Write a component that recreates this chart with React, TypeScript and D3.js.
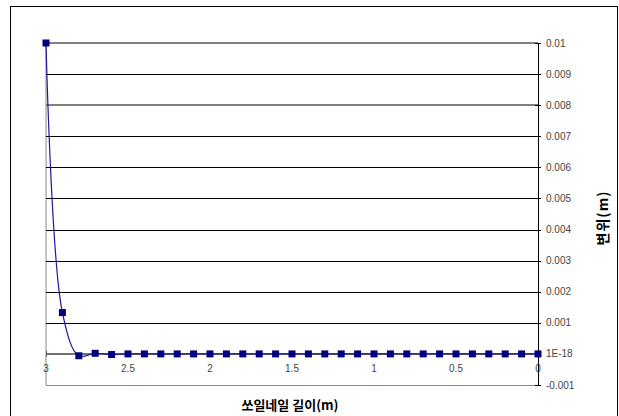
import React from "react";
import * as d3 from "d3";

const xValues = [3, 2.9, 2.8, 2.7, 2.6, 2.5, 2.4, 2.3, 2.2, 2.1, 2.0, 1.9, 1.8, 1.7, 1.6, 1.5, 1.4, 1.3, 1.2, 1.1, 1.0, 0.9, 0.8, 0.7, 0.6, 0.5, 0.4, 0.3, 0.2, 0.1, 0];
const yValues = [0.01, 0.00133, -0.00006, 0.00002, -0.00002, 0, 0, 0, 0, 0, 0, 0, 0, 0, 0, 0, 0, 0, 0, 0, 0, 0, 0, 0, 0, 0, 0, 0, 0, 0, 0];
const xTicks = [3, 2.5, 2, 1.5, 1, 0.5, 0];
const yTicks = [-0.001, 0, 0.001, 0.002, 0.003, 0.004, 0.005, 0.006, 0.007, 0.008, 0.009, 0.01];
const yTickLabels = ["-0.001", "1E-18", "0.001", "0.002", "0.003", "0.004", "0.005", "0.006", "0.007", "0.008", "0.009", "0.01"];
const xTitle = "쏘일네일 길이(m)";
const yTitle = "변위(m)";

export default function App() {
  const W = 619, H = 416;
  const left = 46, right = 538, top = 43, bottom = 385;
  const x = d3.scaleLinear().domain([3, 0]).range([left, right]);
  const y = d3.scaleLinear().domain([-0.001, 0.01]).range([bottom, top]);
  const pts: [number, number][] = xValues.map((v, i) => [x(v), y(yValues[i])]);
  const line = d3.line().curve(d3.curveCatmullRom.alpha(0.5))(pts) || "";
  const font = "'Liberation Sans', Arial, sans-serif";
  const kfont = "'Noto Sans CJK KR', sans-serif";
  const grayGrid = [0.01, 0.008];
  return (
    <svg width={W} height={H} style={{ position: "absolute", left: 0, top: 0, background: "#fff" }}>
      <rect x={10.5} y={6.5} width={607} height={420} fill="#fff" stroke="#000" strokeWidth={1} />
      <line x1={left} x2={left} y1={top} y2={bottom} stroke="#888" strokeWidth={1} />
      <line x1={left} x2={right} y1={bottom + 0.5} y2={bottom + 0.5} stroke="#888" strokeWidth={1} />
      {yTicks.filter(t => t > 0).map((t, i) => {
        const g = grayGrid.includes(t);
        const yy = g ? Math.round(y(t)) : Math.round(y(t)) + 0.5;
        return <line key={i} x1={left} x2={right} y1={yy} y2={yy} stroke={g ? "#808080" : "#000"} strokeWidth={g ? 2 : 1} />;
      })}
      <line x1={left} x2={right} y1={Math.round(y(0))} y2={Math.round(y(0))} stroke="#707070" strokeWidth={2} />
      {xTicks.map((t, i) => (
        <line key={i} x1={Math.round(x(t)) + 0.5} x2={Math.round(x(t)) + 0.5} y1={y(0) - 3} y2={y(0) + 3} stroke="#666" strokeWidth={1} />
      ))}
      {xTicks.map((t, i) => (
        <text key={i} x={x(t)} y={y(0) + 18} fontFamily={font} fontSize={10} fill="#444" textAnchor="middle">{String(t)}</text>
      ))}
      <line x1={right + 0.5} x2={right + 0.5} y1={top} y2={bottom} stroke="#000" strokeWidth={1} />
      {yTicks.map((t, i) => (
        <line key={i} x1={right - 3} x2={right + 3} y1={Math.round(y(t)) + 0.5} y2={Math.round(y(t)) + 0.5} stroke="#000" strokeWidth={1} />
      ))}
      {yTicks.map((t, i) => (
        <text key={i} x={right + 8} y={y(t) + 3.5} fontFamily={font} fontSize={10} fill="#444">{yTickLabels[i]}</text>
      ))}
      <path d={line} fill="none" stroke="#1a1a9a" strokeWidth={1.2} />
      {pts.map((p, i) => (
        <rect key={i} x={p[0] - 3.5} y={p[1] - 3.5} width={7} height={7} fill="#000080" />
      ))}
      <text x={290} y={410} fontFamily={kfont} fontSize={13} fontWeight="bold" textAnchor="middle" fill="#000">{xTitle}</text>
      <text transform={`translate(608,${(top + bottom) / 2 + 4}) rotate(-90)`} fontFamily={kfont} fontSize={14} fontWeight="bold" letterSpacing={1} textAnchor="middle" fill="#000">{yTitle}</text>
    </svg>
  );
}
